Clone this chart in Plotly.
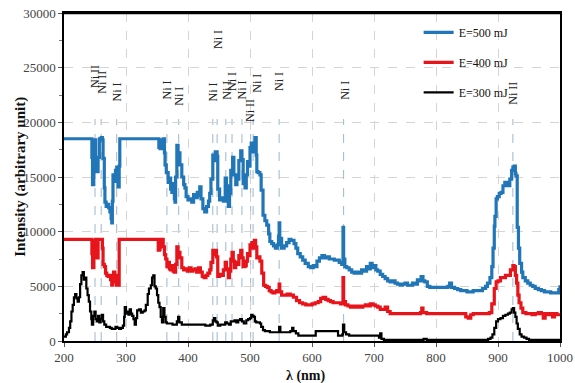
import plotly.graph_objects as go

# Emission spectra recorded at three laser pulse energies
wl_500 = [200, 244, 245, 246, 248, 249, 250, 251, 253, 255, 257, 260, 262, 263, 265, 266, 268, 270, 272, 274,
          276, 277, 278, 279, 281, 283, 285, 286, 287, 289, 290, 352, 353, 355, 357, 360, 362, 363, 365, 368,
          370, 372, 374, 376, 378, 379, 380, 382, 384, 387, 390, 393, 395, 397, 400, 403, 406, 409, 412, 415,
          418, 419, 421, 424, 427, 430, 433, 435, 437, 440, 442, 444, 447, 448, 451, 454, 457, 460, 462, 465,
          467, 469, 472, 474, 477, 479, 482, 485, 487, 489, 492, 494, 496, 498, 500, 502, 504, 506, 508, 510,
          511, 513, 516, 518, 521, 524, 527, 530, 532, 535, 538, 541, 544, 546, 547, 548, 551, 555, 559, 563,
          566, 568, 571, 574, 577, 581, 585, 589, 594, 598, 602, 605, 608, 612, 616, 620, 624, 628, 632, 636,
          640, 644, 648, 649, 650, 651, 653, 656, 660, 664, 668, 672, 676, 680, 684, 688, 691, 694, 697, 700,
          703, 706, 710, 714, 718, 722, 726, 730, 734, 738, 742, 746, 750, 754, 758, 762, 766, 770, 773, 776,
          779, 782, 786, 790, 795, 800, 805, 810, 815, 819, 822, 825, 830, 835, 840, 845, 850, 855, 860, 865,
          870, 875, 880, 883, 887, 890, 892, 894, 895, 897, 899, 902, 905, 908, 911, 914, 916, 919, 922, 924,
          926, 928, 929, 931, 933, 935, 938, 940, 944, 948, 952, 956, 960, 965, 970, 975, 980, 985, 990, 995,
          998, 1000]
int_500 = [18500, 18500, 16800, 14300, 15800, 17500, 18400, 16500, 15500, 16800, 18500, 18600, 18400, 16700, 14000, 12700, 12300, 12500, 12200, 11800,
           11200, 10800, 12800, 15200, 14600, 15600, 15900, 14800, 14100, 16000, 18500, 18500, 17700, 17600, 18400, 18500, 17200, 16100, 15400, 14500,
           14900, 13900, 13600, 14400, 13000, 12700, 15000, 17900, 17200, 16100, 15000, 14300, 14000, 13200, 12900, 13000, 12700, 13400, 13100, 13600,
           13300, 14100, 13000, 12100, 11800, 12300, 12800, 13500, 14800, 17000, 16500, 17300, 16900, 13900, 12900, 13100, 12800, 14900, 14200, 12300,
           13500, 15600, 16800, 15200, 14300, 14800, 16500, 17400, 16600, 14400, 14000, 15200, 16400, 16000, 17700, 18100, 17300, 18000, 18600, 17000,
           15500, 15400, 15200, 13800, 11500, 11000, 10600, 9800, 9100, 8900, 8700, 8500, 8800, 9600, 10800, 9400, 8500, 8700, 9000, 9300,
           9200, 9200, 8900, 8500, 8000, 7700, 7400, 7100, 6800, 6700, 6900, 6800, 7300, 7600, 7800, 7600, 7700, 7500, 7500, 7400,
           7400, 7200, 7000, 7100, 10400, 7500, 6800, 6700, 6500, 6300, 6200, 6300, 6200, 6500, 6400, 6800, 6600, 7100, 6700, 6900,
           6500, 6400, 6100, 5900, 5700, 5500, 5400, 5500, 5300, 5200, 5100, 5200, 5300, 5100, 5100, 5300, 5200, 5600, 5500, 5900,
           5500, 5400, 5000, 4900, 4900, 4900, 4900, 4900, 4900, 5000, 5300, 4900, 4800, 4700, 4600, 4600, 4500, 4500, 4600, 4600,
           4600, 4800, 5000, 5300, 5800, 6800, 8500, 10500, 11400, 13000, 13200, 13500, 13600, 14200, 14500, 14400, 14200, 14800, 15600, 15900,
           16000, 15300, 15100, 10400, 8500, 7100, 6300, 5800, 5500, 5300, 5100, 5000, 4800, 4700, 4600, 4500, 4500, 4400, 4400, 4400,
           4700, 5100]

wl_400 = [200, 244, 245, 246, 248, 249, 251, 253, 255, 258, 260, 262, 263, 265, 267, 269, 271, 273, 275, 277,
          278, 280, 282, 284, 286, 287, 289, 351, 352, 354, 355, 358, 360, 362, 364, 366, 368, 370, 372, 374,
          376, 378, 380, 382, 384, 387, 390, 393, 396, 399, 402, 405, 408, 411, 414, 417, 420, 423, 426, 429,
          432, 435, 437, 440, 442, 444, 446, 448, 451, 454, 457, 460, 462, 465, 467, 469, 471, 473, 475, 477,
          479, 482, 485, 487, 489, 492, 494, 496, 498, 500, 503, 505, 507, 509, 511, 513, 516, 519, 522, 525,
          528, 531, 534, 537, 540, 543, 546, 547, 548, 551, 556, 560, 565, 570, 575, 580, 585, 590, 595, 600,
          605, 610, 614, 618, 622, 626, 630, 634, 638, 642, 646, 649, 650, 651, 654, 658, 662, 666, 670, 674,
          678, 682, 686, 690, 694, 698, 702, 706, 710, 714, 718, 722, 726, 730, 740, 750, 760, 770, 775, 777,
          779, 785, 800, 815, 830, 840, 845, 848, 852, 856, 860, 870, 880, 886, 890, 894, 897, 900, 904, 908,
          912, 916, 920, 924, 926, 928, 930, 932, 934, 937, 940, 945, 950, 955, 960, 965, 970, 973, 976, 980,
          985, 988, 991, 995, 1000]
int_400 = [9300, 9300, 8000, 6700, 7600, 9200, 9300, 7600, 9300, 9300, 9300, 8500, 7000, 6800, 6200, 6000, 5900, 6000, 5600, 5100,
           5400, 6300, 6000, 5100, 5200, 5100, 9300, 9300, 8300, 8400, 9300, 9300, 8600, 7900, 7500, 6800, 7200, 6600, 6500, 6900,
           6400, 6300, 7000, 8600, 8100, 7600, 6700, 6500, 6600, 6400, 6700, 6400, 6500, 6600, 6300, 6700, 6300, 5900, 5800, 6000,
           6200, 6500, 7200, 8300, 7900, 8300, 7700, 5900, 6100, 6000, 6500, 7200, 6600, 5800, 6400, 7500, 8100, 7300, 6700, 7200,
           7000, 7800, 8300, 7600, 6800, 6900, 7300, 8000, 7800, 8800, 9000, 8500, 9200, 8600, 7600, 7700, 7300, 6200, 5100, 5000,
           4900, 4600, 4500, 4400, 4500, 4600, 4500, 5200, 4500, 4200, 4200, 4300, 4200, 4000, 3700, 3500, 3400, 3300, 3300, 3400,
           3500, 3600, 3900, 4000, 3800, 3700, 3600, 3500, 3500, 3500, 3400, 3400, 5800, 3600, 3300, 3200, 3100, 3200, 3100, 3200,
           3100, 3200, 3300, 3200, 3400, 3300, 3200, 3100, 2900, 2900, 3100, 2700, 2500, 2500, 2500, 2500, 2500, 2500, 2600, 3000,
           2600, 2500, 2500, 2500, 2500, 2500, 2500, 2200, 2100, 2400, 2500, 2500, 2500, 2600, 3400, 4800, 5400, 5500, 5800, 5800,
           6000, 6000, 6500, 6900, 6800, 6000, 5300, 4200, 3500, 3000, 2600, 2500, 2500, 2400, 2500, 2600, 2500, 2100, 2500, 2400,
           2500, 2200, 2500, 2400, 2400]

wl_300 = [200, 203, 205, 208, 210, 212, 214, 216, 218, 220, 222, 224, 226, 228, 230, 232, 234, 236, 238, 240,
          242, 244, 245, 247, 249, 251, 253, 255, 257, 259, 261, 263, 265, 268, 271, 274, 277, 280, 283, 286,
          289, 292, 295, 297, 298, 300, 302, 304, 306, 308, 310, 312, 314, 316, 318, 321, 324, 327, 330, 332,
          335, 337, 340, 342, 344, 346, 348, 350, 352, 354, 356, 358, 360, 362, 364, 366, 370, 375, 380, 382,
          384, 386, 390, 400, 410, 420, 425, 428, 432, 436, 440, 442, 444, 446, 448, 452, 456, 460, 463, 466,
          469, 472, 475, 478, 481, 484, 487, 490, 494, 497, 500, 502, 504, 506, 508, 510, 513, 516, 518, 521,
          524, 528, 532, 536, 540, 545, 547, 549, 553, 557, 561, 565, 568, 570, 574, 578, 585, 595, 600, 604,
          606, 612, 620, 628, 636, 640, 642, 646, 649, 650, 652, 655, 660, 670, 680, 690, 700, 705, 708, 710,
          712, 716, 730, 750, 770, 780, 785, 800, 820, 840, 860, 875, 884, 888, 891, 894, 897, 900, 904, 908,
          912, 916, 919, 922, 924, 926, 928, 930, 932, 935, 938, 942, 946, 950, 970, 1000]
int_300 = [400, 600, 800, 1200, 1800, 2700, 3300, 4000, 4300, 3900, 3600, 4000, 5200, 6000, 6300, 5600, 5800, 4800, 4200, 3600,
           2700, 2000, 1500, 2300, 2700, 2000, 1800, 2300, 1700, 2000, 2400, 1800, 1500, 1300, 1300, 1200, 1100, 1100, 1300, 1200,
           1100, 1200, 1400, 2200, 3100, 2500, 2700, 2400, 2900, 2500, 2300, 2000, 1500, 2100, 2800, 2900, 2600, 2700, 2800, 3300,
           4300, 4800, 5100, 5800, 6000, 5000, 4800, 4200, 3500, 3100, 2200, 1700, 3000, 2200, 1700, 1600, 1600, 1500, 1500, 1800,
           2200, 1700, 1500, 1500, 1500, 1500, 1500, 1400, 1400, 1500, 1900, 2100, 1800, 1700, 1400, 1500, 1500, 1700, 1600, 1500,
           1800, 1800, 1900, 1700, 1900, 2000, 1800, 1600, 1900, 2000, 2100, 2400, 2300, 2200, 1800, 1700, 1700, 1600, 1300, 1000,
           900, 900, 800, 800, 800, 800, 1300, 800, 800, 800, 800, 900, 1200, 900, 700, 500, 500, 500, 500, 500,
           900, 900, 900, 900, 900, 900, 500, 500, 600, 1500, 800, 600, 500, 500, 500, 500, 500, 500, 300, 700,
           200, 100, 100, 100, 100, 200, 100, 100, 100, 100, 100, 100, 200, 300, 600, 1200, 1800, 2000, 2100, 2300,
           2400, 2500, 2600, 2900, 3000, 2600, 2200, 1600, 1100, 600, 400, 300, 200, 100, 100, 100]

# Identified nickel emission lines and their labels
ni_wl = [251, 261, 285, 366, 385, 440, 448, 463, 471, 487, 501, 511, 547, 652, 924]
ni_text = ["Ni II", "Ni II", "Ni I", "Ni I", "Ni I", "Ni I", "Ni I", "Ni I", "Ni I", "Ni I",
           "Ni II", "Ni I", "Ni I", "Ni I", "Ni II"]
ni_label_y = [24200, 23700, 22800, 23000, 22400, 22800, 27600, 22900, 23700, 23000,
              21100, 23600, 23700, 22900, 22700]
ni_marker_wl = [250, 260, 285, 366, 385, 440, 447, 461, 471, 487, 501, 505, 547, 651, 924]

x_ticks = [200, 300, 400, 500, 600, 700, 800, 900, 1000]
y_ticks = [0, 5000, 10000, 15000, 20000, 25000, 30000]

SERIF = "Liberation Serif, Times New Roman, serif"

fig = go.Figure()

series = [
    ("E=500 mJ", wl_500, int_500, "#2176b8", 3.2),
    ("E=400 mJ", wl_400, int_400, "#e8141b", 3.2),
    ("E=300 mJ", wl_300, int_300, "#000000", 2.2),
]
for i, (name, x, y, color, width) in enumerate(series):
    fig.add_trace(go.Scatter(
        x=x, y=y, name=name, mode="lines", legendgroup=f"g{i}",
        line=dict(color=color, width=width, shape="hv"),
    ))

# dashed markers at the nickel line positions
for w in ni_marker_wl:
    fig.add_shape(type="line", xref="x", yref="y", x0=w, x1=w, y0=0, y1=20300,
                  line=dict(color="#9fb6cc", width=1, dash="dash"), layer="below")

for w, t, yy in zip(ni_wl, ni_text, ni_label_y):
    fig.add_annotation(x=w, y=yy, xref="x", yref="y", text=t, showarrow=False,
                       textangle=-90, font=dict(family=SERIF, size=12, color="#222"))

# axis titles
fig.add_annotation(x=-0.089, y=0.5, xref="paper", yref="paper", xanchor="center", yanchor="middle",
                   text="<b>Intensity (arbitrary unit)</b>", textangle=-90, showarrow=False,
                   font=dict(family=SERIF, size=15, color="#111"))
fig.add_annotation(x=0.486, y=-0.107, xref="paper", yref="paper", xanchor="center", yanchor="middle",
                   text="<b>λ (nm)</b>", showarrow=False,
                   font=dict(family=SERIF, size=14, color="#111"))

fig.update_layout(
    width=575, height=383,
    margin=dict(l=64, r=15, t=13, b=42),
    plot_bgcolor="white", paper_bgcolor="white",
    font=dict(family=SERIF, size=13, color="#333"),
    legend=dict(x=0.715, y=0.985, xanchor="left", yanchor="top",
                bgcolor="rgba(0,0,0,0)", tracegroupgap=11,
                font=dict(family=SERIF, size=12, color="#111"),
                itemwidth=30),
    showlegend=True,
)

fig.update_xaxes(
    range=[200, 1000], tickvals=x_ticks, ticktext=[str(v) for v in x_ticks],
    showgrid=True, gridcolor="#d4d4d4", griddash="dash", gridwidth=1,
    showline=True, linecolor="black", linewidth=1.5, mirror=True,
    ticks="outside", ticklen=4, tickcolor="#555",
    tickfont=dict(family=SERIF, size=13, color="#444"),
    zeroline=False, automargin=False,
)
fig.update_yaxes(
    range=[0, 30000], tickvals=y_ticks, ticktext=[str(v) for v in y_ticks],
    showgrid=True, gridcolor="#d4d4d4", griddash="dash", gridwidth=1,
    showline=True, linecolor="black", linewidth=1.5, mirror=True,
    ticks="outside", ticklen=4, tickcolor="#555",
    minor=dict(ticks="outside", ticklen=3, tickcolor="#777", dtick=2500, showgrid=False),
    tickfont=dict(family=SERIF, size=13, color="#444"),
    zeroline=False, automargin=False,
)

# heavier frame along the top edge
fig.add_shape(type="line", xref="paper", yref="paper", x0=0, x1=1, y0=1, y1=1,
              line=dict(color="black", width=2.5))

fig.write_html("out.html")
